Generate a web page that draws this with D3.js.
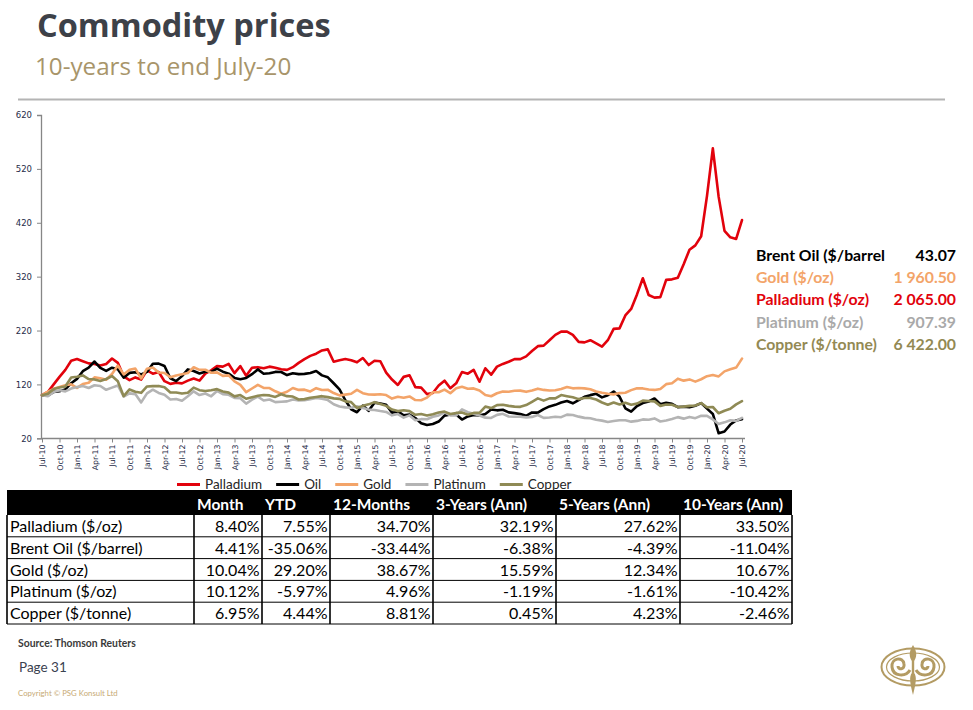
<!DOCTYPE html>
<html><head><meta charset="utf-8">
<script src="https://cdn.jsdelivr.net/npm/d3@7"></script>
<style>
html,body{margin:0;padding:0;background:#fff;}
svg{display:block;}
</style></head>
<body><svg id="c" width="973" height="710"></svg>
<script>
// ---------------- DATA ----------------
const seriesNames = ["Palladium", "Oil", "Gold", "Platinum", "Copper"];
// Indexed values (Jul-10 = 100), monthly Jul-10 .. Jul-20
const palladium = [
  100,106,120,134,147,164,
  167,163,159,158,155,158,168,160,135,128,133,129,
  146,140,143,126,121,123,122,127,131,127,140,146,
  154,153,158,141,154,136,151,152,150,153,151,148,
  147,152,160,167,173,177,183,185,162,165,167,165,
  161,169,156,164,163,142,129,119,134,137,115,114,
  102,104,118,127,113,122,143,140,147,125,150,138,
  153,158,162,167,167,172,182,191,192,202,212,218,
  218,212,199,198,202,196,190,202,223,224,248,260,
  287,317,286,281,282,314,315,318,343,370,378,395,
  470,558,468,405,393,390,425];
const oil = [
  100,99,106.2,107.4,110.8,122.3,
  130.3,144.5,151,162.5,150.6,145.2,151,148.3,132.6,141.4,142.6,138.6,
  143.2,158.3,158.6,154.2,131.5,126.2,135.4,147.9,145,140.3,143.5,143.4,
  149.2,143.7,140,132.1,129.5,131.9,139,147.9,139.9,140.6,143.2,143,
  137.3,140.8,139.1,139.5,141.2,145,136.8,133.2,122.2,110.8,90.6,73.9,
  68.4,80.8,71.1,86.2,84.6,82.1,67.4,69.9,62.5,64,57.5,48.1,
  44.8,46.5,51.1,62.1,64.1,64.1,54.8,60.6,63.4,62.3,65.2,73.3,
  71.9,72.9,68.1,66.7,64.9,61.8,68,67.6,74.2,79.2,82.1,86.3,
  89.2,84.9,90.7,97,100.1,102.5,95.9,99.9,106.7,97.4,75.7,69.4,
  79.9,85.5,88.3,93.9,83.2,85.9,84.1,77.9,78.5,77.7,80.5,85.2,
  75.1,65.2,29.3,32.6,45.5,53.2,55.6];
const gold = [
  100,106.6,111.8,115.1,118.6,120.2,
  113.5,120.7,123.1,133.1,131.4,128.7,139.3,155.1,138.6,147.3,149.4,131,
  149.2,151.4,142.2,141.2,133.3,136.7,138.8,141,151.9,147.1,147.2,141.7,
  142.3,135.8,136.7,125.5,119.2,105.6,112.4,119.2,113.5,113.3,107.2,102.8,
  106.4,113.4,109.8,110.3,106.9,113.1,109.7,110.1,104,99.6,101.1,102.6,
  109.8,103.8,101.2,101.1,101.8,100.3,93.7,97.1,95.3,97.7,91,90.7,
  95.5,105.6,105.5,110.4,103.8,113,115.6,112,112.6,108.9,100.4,98,
  103.6,106.8,106.5,108.3,108.5,106.2,108.6,112.1,109.8,108.7,109.1,111.5,
  115.1,112.7,113.3,112.6,111.1,107,104.7,102.8,101.5,103.9,104.5,109.4,
  113,112.6,110.5,109.8,111.6,120.5,122.1,130.7,127,129.3,125.2,129.6,
  135.3,137.6,134.9,144.2,148,151.2,167.8];
const platinum = [
  100,98.1,106.1,109,107.1,112.3,
  115,116.9,113.3,118.4,117,110,114.1,118,97.6,103.3,102,86.6,
  103.3,110.2,104.2,101,92.1,92.8,89.8,98,107.1,100.3,103.2,97.9,
  107.9,102,100.8,94.9,94.4,84.3,91.6,97.4,90.2,92.1,87.1,87.7,
  88.5,92.1,90.1,90.7,92.7,94.9,93.4,90.9,83.2,79,77.4,76.6,
  79.3,76.3,73.3,72.6,70.6,68.9,62.6,65,58.4,62.5,53.6,55.5,
  55.3,60.1,62.4,68,62.6,62.3,73.6,68.5,65.6,62.3,58.3,57.8,
  63.5,65.4,60.5,60.1,59.9,58.9,59.7,63.3,57.9,58.5,60,59.2,
  64,63.3,60.2,57.9,57.2,54.5,52.8,50.4,52,53.4,53.4,50.9,
  52.3,55.1,54.4,56.9,51.2,53,55.7,59.3,56.5,59.7,57.4,61.7,
  61.7,55,46.5,49.6,53.5,52.4,58];
const copper = [
  100,102.8,111.3,114.4,116.2,132.8,
  134.2,136.7,130,129.3,126.4,130,135.5,125.9,98.2,110.7,106.5,104.4,
  116.2,116.9,117.2,114.8,105.1,105.1,103,104.4,114.1,109.3,107.9,109.3,
  111.3,106.9,104.8,97.8,100.3,93.4,96.1,98.9,100.3,99.6,96.8,101.7,
  98.2,97.5,92,92.7,95.4,96.8,98.2,96.4,94.1,93.2,88.5,87.1,
  76.1,80.2,83,87.1,83.7,80.2,73.3,70.5,71.9,70.5,63.6,65,
  62.2,64.6,67.8,69.6,65,67.1,67.8,63.6,67.1,67.1,78.8,76.1,
  81.6,82.3,80.2,78.8,78.4,81.6,87.8,94.1,89.9,94.1,94.1,100.3,
  98.2,96.1,92.7,94.7,94.7,92,86.4,82.3,86.4,82.7,85.8,82.3,
  84.4,89.9,89.2,88.5,80.2,82.6,82.3,78.1,78.8,80.2,80.9,85.3,
  77.5,78.1,66.4,71.2,74.7,83,88.8];
const yTicks = [20, 120, 220, 320, 420, 520, 620];

const priceLabels = ["Brent Oil ($/barrel", "Gold ($/oz)", "Palladium ($/oz)", "Platinum ($/oz)", "Copper ($/tonne)"];
const priceValues = ["43.07", "1 960.50", "2 065.00", "907.39", "6 422.00"];

const tableHeaders = ["Month", "YTD", "12-Months", "3-Years (Ann)", "5-Years (Ann)", "10-Years (Ann)"];
const tableRows = ["Palladium ($/oz)", "Brent Oil ($/barrel)", "Gold ($/oz)", "Platinum ($/oz)", "Copper ($/tonne)"];
const tableValues = [
  ["8.40%", "7.55%", "34.70%", "32.19%", "27.62%", "33.50%"],
  ["4.41%", "-35.06%", "-33.44%", "-6.38%", "-4.39%", "-11.04%"],
  ["10.04%", "29.20%", "38.67%", "15.59%", "12.34%", "10.67%"],
  ["10.12%", "-5.97%", "4.96%", "-1.19%", "-1.61%", "-10.42%"],
  ["6.95%", "4.44%", "8.81%", "0.45%", "4.23%", "-2.46%"]];

// ---------------- STYLE ----------------
const F = "Lato, 'Open Sans', sans-serif";
const OS = "'Open Sans', Lato, sans-serif";
const AXF = "'DejaVu Sans', Verdana, sans-serif";
const colors = {Palladium: "#e2020c", Oil: "#000000", Gold: "#f3a469", Platinum: "#b4b4b4", Copper: "#8f8a55"};
const priceColors = ["#000000", "#f3a469", "#e2020c", "#a9a9a9", "#938953"];
const tan = "#b39b63";

const svg = d3.select("#c");

// Title
svg.append("text").attr("x", 37).attr("y", 37).attr("font-family", OS).attr("font-weight", 700)
  .attr("font-size", 32.5).attr("fill", "#3d4148").text("Commodity prices");
svg.append("text").attr("x", 35).attr("y", 75).attr("font-family", OS)
  .attr("font-size", 24.2).attr("fill", "#a8956a").text("10-years to end July-20");
svg.append("line").attr("x1", 18).attr("x2", 945).attr("y1", 99.5).attr("y2", 99.5)
  .attr("stroke", "#b4b4b4").attr("stroke-width", 2);

// ---------------- CHART ----------------
const months = d3.timeMonth.range(new Date(2010, 6, 1), new Date(2020, 7, 1)).map(d3.timeFormat("%b-%y"));
const x = d3.scalePoint().domain(months).range([42, 742]);
const y = d3.scaleLinear().domain([20, 620]).range([438.3, 115]);

const gY = svg.append("g").attr("transform", "translate(41,0)")
  .call(d3.axisLeft(y).tickValues(yTicks).tickSize(4).tickPadding(5));
gY.select(".domain").attr("stroke", "#868686").attr("stroke-width", 1.3);
gY.selectAll(".tick line").attr("stroke", "#868686");
gY.selectAll(".tick text").attr("font-family", AXF).attr("font-size", 8.5).attr("fill", "#1f2b48");

const gX = svg.append("g").attr("transform", "translate(0,438.5)")
  .call(d3.axisBottom(x).tickValues(months.filter((d, i) => i % 3 === 0)).tickSize(4));
gX.select(".domain").attr("stroke", "#868686").attr("stroke-width", 1.3)
  .attr("d", "M41,0H745");
gX.selectAll(".tick line").attr("stroke", "#868686");
gX.selectAll(".tick text").attr("font-family", AXF).attr("font-size", 7.8).attr("fill", "#1f2b48")
  .attr("transform", "rotate(-90)").attr("text-anchor", "end")
  .attr("x", -6).attr("y", 0).attr("dy", "0.33em");

const data = [palladium, oil, gold, platinum, copper];
const line = d3.line().x((d, i) => x(months[i])).y(d => y(d));
svg.append("g").selectAll("path").data(data).join("path")
  .attr("d", line).attr("fill", "none")
  .attr("stroke", (d, i) => colors[seriesNames[i]])
  .attr("stroke-width", 2.6).attr("stroke-linejoin", "round").attr("stroke-linecap", "round");

// Legend
const leg = svg.append("g");
let lx = 177;
seriesNames.forEach(n => {
  leg.append("line").attr("x1", lx).attr("x2", lx + 23).attr("y1", 484.5).attr("y2", 484.5)
    .attr("stroke", colors[n]).attr("stroke-width", 3);
  const t = leg.append("text").attr("x", lx + 28).attr("y", 489).attr("font-family", F)
    .attr("font-size", 13.5).attr("fill", "#262626").text(n);
  lx += 28 + t.node().getComputedTextLength() + 14;
});

// Price box
priceLabels.forEach((p, i) => {
  const yy = 261 + i * 22.2;
  svg.append("text").attr("x", 756).attr("y", yy).attr("font-family", F).attr("font-weight", 700)
    .attr("font-size", 15.8).attr("fill", priceColors[i]).text(p);
  svg.append("text").attr("x", 956).attr("y", yy).attr("text-anchor", "end").attr("font-family", F)
    .attr("font-weight", 700).attr("font-size", 15.8).attr("fill", priceColors[i]).text(priceValues[i]);
});

// ---------------- TABLE ----------------
const colEdges = [7, 194, 262, 330, 433, 556, 680, 792];
const headTop = 490, headBot = 515, rowH = 21.8;
const tb = svg.append("g");
tb.append("rect").attr("x", colEdges[0]).attr("y", headTop).attr("width", colEdges[7] - colEdges[0])
  .attr("height", headBot - headTop).attr("fill", "#000");
tableHeaders.forEach((h, j) => {
  tb.append("text").attr("x", colEdges[j + 1] + 3).attr("y", headBot - 5.5).attr("font-family", F)
    .attr("font-weight", 700).attr("font-size", 15.5).attr("fill", "#fff").text(h);
});
const tableBottom = headBot + rowH * tableRows.length;
tableRows.forEach((r, i) => {
  const top = headBot + i * rowH;
  tb.append("text").attr("x", 10).attr("y", top + 17).attr("font-family", F)
    .attr("font-size", 16).attr("fill", "#000").text(r);
  tableValues[i].forEach((v, j) => {
    tb.append("text").attr("x", colEdges[j + 2] - 2.5).attr("y", top + 17).attr("text-anchor", "end")
      .attr("font-family", F).attr("font-size", 16).attr("fill", "#000").text(v);
  });
  tb.append("line").attr("x1", colEdges[0]).attr("x2", colEdges[7]).attr("y1", top + rowH).attr("y2", top + rowH)
    .attr("stroke", "#000").attr("stroke-width", 1);
});
colEdges.forEach(cx => {
  tb.append("line").attr("x1", cx).attr("x2", cx).attr("y1", headBot).attr("y2", tableBottom)
    .attr("stroke", "#000").attr("stroke-width", 1.6);
});

// ---------------- FOOTER ----------------
svg.append("text").attr("x", 18).attr("y", 647).attr("font-family", F).attr("font-weight", 700)
  .attr("font-size", 10.4).attr("fill", "#3a3a3a").text("Source: Thomson Reuters");
svg.append("text").attr("x", 19).attr("y", 672).attr("font-family", F)
  .attr("font-size", 13.5).attr("fill", "#3b4250").text("Page 31");
svg.append("text").attr("x", 18).attr("y", 696).attr("font-family", F)
  .attr("font-size", 7.8).attr("fill", "#c7aa74").text("Copyright \u00a9 PSG Konsult Ltd");

// Logo
const lg = svg.append("g").attr("transform", "translate(913,667)").attr("fill", "none").attr("stroke", tan);
lg.append("ellipse").attr("rx", 31.5).attr("ry", 18.5).attr("stroke-width", 2);
lg.append("ellipse").attr("rx", 26.5).attr("ry", 14).attr("stroke-width", 1.2);
lg.append("path").attr("fill", tan).attr("stroke", "none")
  .attr("d", "M0,-22 C3,-17 5,-12 1.2,-6 L1.2,6 C4,10 3,16 0,28 C-3,16 -4,10 -1.2,6 L-1.2,-6 C-5,-12 -3,-17 0,-22 Z");
lg.append("path").attr("stroke-width", 3)
  .attr("d", "M-3,3 C-7,10 -20,10 -21,0 C-22,-9 -10,-11 -9,-3 C-8,3 -15,3 -15,-1");
lg.append("path").attr("stroke-width", 3)
  .attr("d", "M3,3 C7,10 20,10 21,0 C22,-9 10,-11 9,-3 C8,3 15,3 15,-1");
</script>
</body></html>
